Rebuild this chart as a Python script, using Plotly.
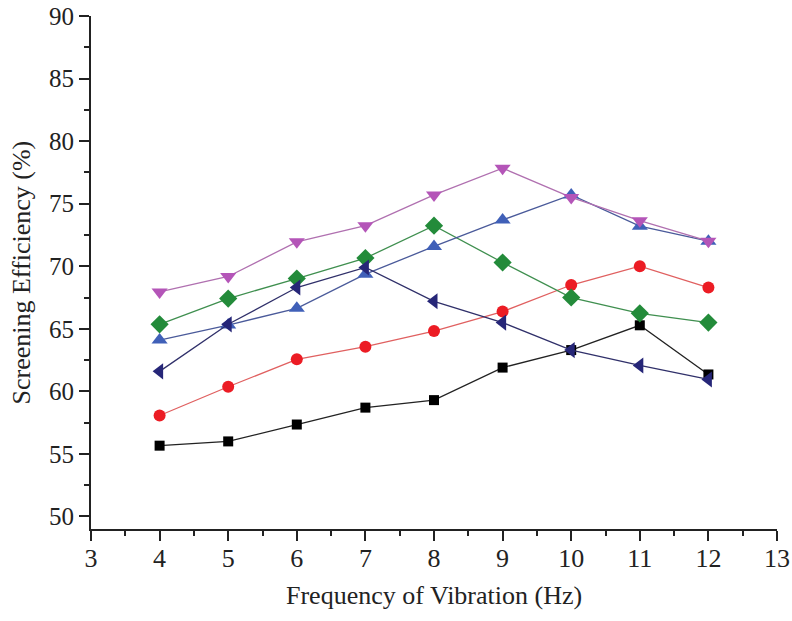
import plotly.graph_objects as go

freq = [4, 5, 6, 7, 8, 9, 10, 11, 12]

s_square = [55.66, 56.0, 57.35, 58.7, 59.3, 61.9, 63.3, 65.28, 61.35]
s_circle = [58.07, 60.37, 62.56, 63.57, 64.82, 66.38, 68.5, 70.0, 68.3]
s_diamond = [65.36, 67.42, 69.02, 70.65, 73.24, 70.3, 67.5, 66.24, 65.5]
s_up = [64.1, 65.3, 66.64, 69.37, 71.58, 73.7, 75.7, 73.2, 72.0]
s_left = [61.6, 65.36, 68.3, 69.9, 67.2, 65.5, 63.3, 62.07, 60.95]
s_down = [67.95, 69.18, 71.95, 73.24, 75.7, 77.84, 75.5, 73.64, 72.0]

x_ticks = [3, 4, 5, 6, 7, 8, 9, 10, 11, 12, 13]
y_ticks = [50, 55, 60, 65, 70, 75, 80, 85, 90]

x_title = "Frequency of Vibration (Hz)"
y_title = "Screening Efficiency (%)"

series = [
    (s_square, "square", "#000000", "#222222", 10),
    (s_circle, "circle", "#ec1c24", "#e06060", 12),
    (s_diamond, "diamond", "#238b3a", "#3f8f4f", 14),
    (s_up, "triangle-up", "#4060b8", "#4a5a9a", 14),
    (s_left, "triangle-left", "#262678", "#30306a", 14),
    (s_down, "triangle-down", "#b455b8", "#b070b0", 14),
]

fig = go.Figure()
for vals, sym, mc, lc, sz in series:
    fig.add_trace(go.Scatter(
        x=freq, y=vals, mode="lines+markers",
        line=dict(color=lc, width=1.3),
        marker=dict(symbol=sym, color=mc, size=sz, line=dict(width=0)),
        showlegend=False,
    ))

font = "Liberation Serif, Times New Roman, serif"
fig.update_layout(
    width=792, height=621,
    margin=dict(l=91, r=15, t=16, b=92),
    paper_bgcolor="white", plot_bgcolor="white",
    font=dict(family=font, color="#222222", size=24),
)
fig.update_xaxes(
    range=[3, 13], tickvals=x_ticks, ticktext=[str(v) for v in x_ticks],
    showgrid=False, zeroline=False, showline=True, linecolor="#222222", linewidth=2,
    ticks="outside", ticklen=10, tickwidth=2, tickcolor="#222222",
    minor=dict(dtick=0.5, tick0=3, ticks="outside", ticklen=5, tickwidth=2, tickcolor="#222222"),
    tickfont=dict(size=26, family=font), automargin=False, ticklabelstandoff=-5,
)
fig.update_yaxes(
    range=[49, 90], tickvals=y_ticks, ticktext=[str(v) for v in y_ticks],
    showgrid=False, zeroline=False, showline=True, linecolor="#222222", linewidth=2,
    ticks="outside", ticklen=10, tickwidth=2, tickcolor="#222222",
    minor=dict(dtick=2.5, tick0=0, ticks="outside", ticklen=5, tickwidth=2, tickcolor="#222222"),
    tickfont=dict(size=25, family=font), automargin=False,
)
fig.add_annotation(
    text=x_title, xref="paper", yref="paper", x=0.5, y=0, yshift=-66,
    xanchor="center", yanchor="middle", showarrow=False,
    font=dict(size=26, family=font, color="#222222"),
)
fig.add_annotation(
    text=y_title, xref="paper", yref="paper", x=0, y=0.5, xshift=-70,
    xanchor="center", yanchor="middle", textangle=-90, showarrow=False,
    font=dict(size=26, family=font, color="#222222"),
)
fig.write_html(
    "out.html",
    config={"displayModeBar": False},
    post_script="document.body.style.margin='0';document.body.style.overflow='hidden';",
)
